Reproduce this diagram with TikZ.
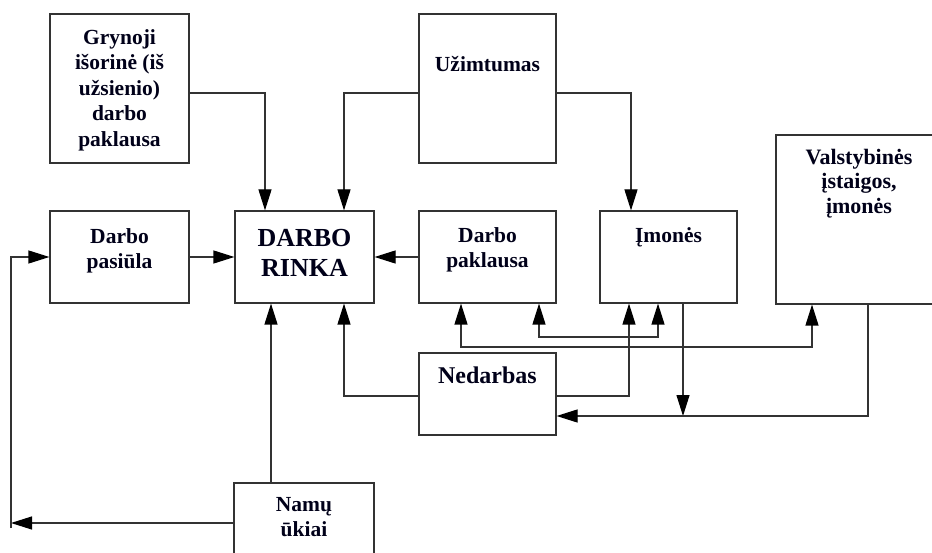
\documentclass[tikz,border=0pt]{standalone}
\usepackage{fontspec}
\setmainfont{Liberation Serif}
\usetikzlibrary{arrows.meta}
\begin{document}
\begin{tikzpicture}[x=1pt,y=-1pt,
  box/.style={draw=black!80, line width=1.2pt, rectangle, inner sep=0pt, fill=white},
  txt/.style={anchor=north, inner sep=0pt, align=center, text=black!90!blue,
    font=\bfseries\fontsize{21.5}{25.5}\selectfont},
  con/.style={draw=black!80, line width=1.2pt},
  tip/.style={Triangle[length=21pt,width=13pt,fill=black,color=black]},
  arr/.style={con, -{Triangle[length=21pt,width=13pt,fill=black,color=black]}},
  darr/.style={con, {Triangle[length=21pt,width=13pt,fill=black,color=black]}-{Triangle[length=21pt,width=13pt,fill=black,color=black]}}
]
\useasboundingbox (0,0) rectangle (932,553);
\clip (0,0) rectangle (932,553);
\fill[white] (0,0) rectangle (932,553);

% boxes
\node[box, minimum width=139pt, minimum height=149pt] (gry) at (119.5,88.5) {};
\node[box, minimum width=139pt, minimum height=92pt] (pas) at (119.5,257) {};
\node[box, minimum width=139pt, minimum height=92pt] (rinka) at (304.5,257) {};
\node[box, minimum width=137pt, minimum height=149pt] (uzi) at (487.5,88.5) {};
\node[box, minimum width=137pt, minimum height=92pt] (pak) at (487.5,257) {};
\node[box, minimum width=137pt, minimum height=92pt] (imo) at (668.5,257) {};
\node[box, minimum width=166pt, minimum height=169pt] (val) at (859,219.5) {};
\node[box, minimum width=137pt, minimum height=82pt] (ned) at (487.5,394) {};
\node[box, minimum width=140pt, minimum height=90pt] (namu) at (304,528) {};

% texts
\node[txt] (gryT) at (119.5,29) {Grynoji\\išorinė (iš\\užsienio)\\darbo\\paklausa};
\node[txt] (pasT) at (119.5,228) {Darbo\\pasiūla};
\node[txt, font=\bfseries\fontsize{26}{30.5}\selectfont] (rinkaT) at (304.5,229) {DARBO\\RINKA};
\node[txt] (uziT) at (487.5,56) {Užimtumas};
\node[txt] (pakT) at (487.5,227) {Darbo\\paklausa};
\node[txt] (imoT) at (668.5,227) {Įmonės};
\node[txt, font=\bfseries\fontsize{22}{24.5}\selectfont] (valT) at (859,149) {Valstybinės\\įstaigos,\\įmonės};
\node[txt, font=\bfseries\fontsize{24}{28}\selectfont] (nedT) at (487.5,367) {Nedarbas};
\node[txt] (namuT) at (304,497) {Namų\\ūkiai};

% bend coordinates
\coordinate (c1) at (265,93);
\coordinate (c2) at (344,93);
\coordinate (c3) at (631,93);
\coordinate (c4) at (271,523);
\coordinate (c5) at (11,523);
\coordinate (c6) at (11,528);
\coordinate (c7) at (344,396);
\coordinate (c8) at (629,396);
\coordinate (c9) at (461,347);
\coordinate (c10) at (812,347);
\coordinate (c11) at (539,337);
\coordinate (c12) at (658,337);
\coordinate (c13) at (683,416);
\coordinate (c14) at (868,416);

% connectors
\draw[arr] (gry.east |- c1) -| (rinka.north -| c1);
\draw[arr] (uzi.west |- c2) -| (rinka.north -| c2);
\draw[arr] (uzi.east |- c3) -| (imo.north -| c3);
\draw[arr] (pas.east) -- (rinka.west);
\draw[arr] (pak.west) -- (rinka.east);
\draw[arr] (namu.north -| c4) -- (rinka.south -| c4);
\draw[arr] (namu.west |- c4) -- (c5);
\draw[arr] (c6) |- (pas.west);
\draw[arr] (ned.west |- c7) -| (rinka.south -| c7);
\draw[arr] (ned.east |- c8) -| (imo.south -| c8);
\draw[darr] (pak.south -| c9) -- (c9) -- (c10) -- (val.south -| c10);
\draw[darr] (pak.south -| c11) -- (c11) -- (c12) -- (imo.south -| c12);
\draw[arr] (imo.south -| c13) -- (c13);
\draw[arr] (val.south -| c14) -- (c14) -- (ned.east |- c14);
\end{tikzpicture}
\end{document}
